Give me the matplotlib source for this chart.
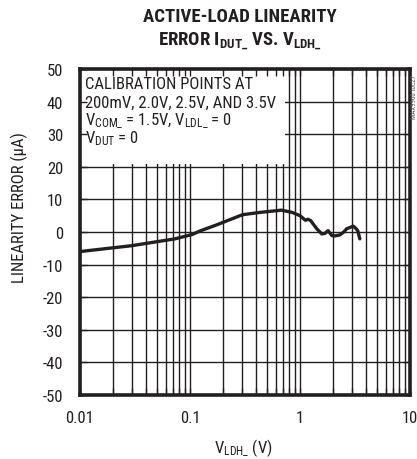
import matplotlib
matplotlib.use("Agg")
import matplotlib.pyplot as plt
from matplotlib.ticker import LogLocator, NullFormatter, FixedLocator
import numpy as np

FONT = "Roboto Condensed"
plt.rcParams['font.family'] = [FONT, 'DejaVu Sans']
plt.rcParams['mathtext.fontset'] = 'custom'
plt.rcParams['mathtext.rm'] = FONT
plt.rcParams['mathtext.it'] = FONT
plt.rcParams['mathtext.bf'] = FONT + ':black'

v_ldh = [0.01, 0.0295, 0.073, 0.104, 0.125, 0.169, 0.30, 0.43, 0.56, 0.68, 0.85, 1.0,
         1.12, 1.18, 1.25, 1.42, 1.58, 1.69, 1.80, 1.95, 2.08, 2.3, 2.5, 2.66, 2.85,
         3.05, 3.2, 3.35, 3.5]
lin_err = [-6.0, -4.2, -2.1, -0.8, 0.4, 2.0, 5.3, 6.0, 6.4, 6.7, 6.0, 5.0,
           3.6, 3.9, 3.5, 1.0, -0.6, -0.4, 0.4, -1.1, -1.2, -0.9, 0.0, 1.0, 1.4,
           1.8, 1.2, 0.4, -2.1]

x_ticks = [0.01, 0.1, 1, 10]
x_ticklabels = ["0.01", "0.1", "1", "10"]
y_ticks = list(range(-50, 51, 10))

INK = '#231f20'
W, H = 417, 460
pos = [80/W, 1 - 396/H, 330/W, 326/H]

fig = plt.figure(figsize=(W/100, H/100), dpi=100)
ax = fig.add_axes(pos)

ax.plot(v_ldh, lin_err, color=INK, lw=2.4, solid_capstyle='round', zorder=3)

def setup(a):
    a.set_xscale('log')
    a.set_xlim(0.01, 10)
    a.set_ylim(-50, 50)
    a.xaxis.set_major_locator(FixedLocator(x_ticks))
    a.xaxis.set_minor_locator(LogLocator(base=10, subs=np.arange(2, 10)))
    a.xaxis.set_minor_formatter(NullFormatter())
    a.set_yticks(y_ticks)

setup(ax)
ax.set_xticklabels(x_ticklabels)
ax.set_yticklabels([str(v) for v in y_ticks])

ax.grid(True, which='both', axis='x', color=INK, lw=1.0)
ax.grid(True, which='major', axis='y', color=INK, lw=1.0)
ax.tick_params(which='both', length=0, labelsize=12, colors=INK)
ax.tick_params(axis='y', pad=12)
ax.tick_params(axis='x', pad=11)
for s in ax.spines.values():
    s.set_linewidth(2.6)
    s.set_color(INK)

ax.set_xlabel(r'V$_{\mathrm{LDH\_}}$ (V)', fontsize=12, color=INK)
ax.xaxis.set_label_coords((243-80)/330, -(437-396)/326)
ax.set_ylabel('LINEARITY ERROR (µA)', fontsize=12, color=INK)
ax.yaxis.set_label_coords(-(80-28)/330, (396-208)/326)

# annotation box (white, hides grid)
ax.add_patch(plt.Rectangle((0, (396-165)/326), (285-80)/330, (165-70)/326,
                           transform=ax.transAxes, facecolor='white',
                           edgecolor='none', zorder=2))

# overlay axes carrying the inward ticks drawn above the white box
ax2 = fig.add_axes(pos)
ax2.patch.set_visible(False)
setup(ax2)
ax2.tick_params(which='both', direction='in', length=5, width=1.0, color=INK,
                top=True, bottom=True, left=True, right=True,
                labelbottom=False, labelleft=False)
for s in ax2.spines.values():
    s.set_visible(False)

lines = ["CALIBRATION POINTS AT",
         "200mV, 2.0V, 2.5V, AND 3.5V",
         r"V$_{\mathrm{COM\_}}$ = 1.5V, V$_{\mathrm{LDL\_}}$ = 0",
         r"V$_{\mathrm{DUT}}$ = 0"]
ys = [85, 103, 121, 139]
for t, yy in zip(lines, ys):
    fig.text(85/W, 1 - yy/H, t, fontsize=12, color=INK,
             va='center', ha='left', zorder=4)

fig.text(240/W, 1 - 17/H, "ACTIVE-LOAD LINEARITY", fontsize=13.5,
         fontweight='black', ha='center', va='center', color=INK)
fig.text(240/W, 1 - 41/H,
         r"ERROR I$_{\mathbf{DUT\_}}$ VS. V$_{\mathbf{LDH\_}}$", fontsize=13.5,
         fontweight='black', ha='center', va='center', color=INK)

fig.text(414/W, 1 - 97/H, "MAX9960 toc27", fontsize=5, rotation=90,
         ha='center', va='center', color='#555555')

fig.savefig("out.png", dpi=100)
